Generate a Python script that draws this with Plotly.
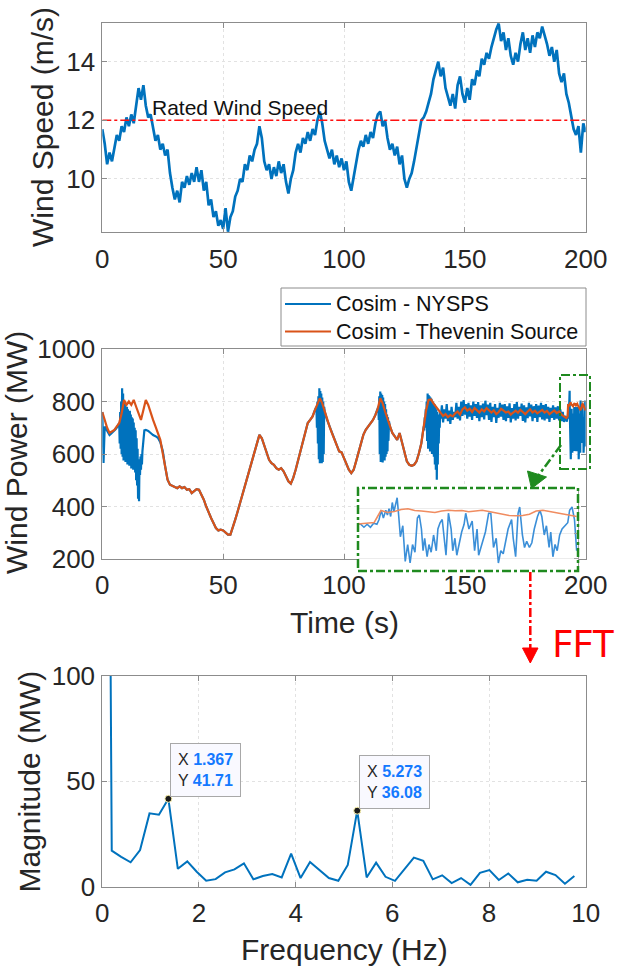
import plotly.graph_objects as go

FONT = "Liberation Sans, Arial, sans-serif"
W, H = 631, 966

# ---------------------------------------------------------------- data
# Wind speed (m/s), one sample per second, t = 0..200 s
time_s = list(range(201))
wind_speed = [
    11.7, 11.2, 10.5, 10.9, 10.6, 11.1, 11.5, 11.3, 11.8, 11.6,
    12.1, 11.8, 12.2, 11.9, 12.6, 13.1, 12.7, 13.2, 12.5, 12.1,
    12.2, 11.8, 11.3, 11.5, 11.0, 11.2, 10.8, 11.0, 10.2, 9.7,
    9.3, 9.6, 9.2, 9.9, 9.7, 10.1, 9.8, 10.2, 9.9, 10.4,
    9.9, 10.3, 9.6, 9.9, 9.1, 9.3, 8.7, 8.9, 8.4, 8.6,
    8.3, 9.0, 8.2, 8.7, 8.9, 9.4, 9.6, 10.0, 9.9, 10.5,
    10.3, 10.8, 10.6, 11.0, 11.2, 11.8, 11.4, 10.6, 10.3, 10.5,
    10.0, 10.4, 10.1, 10.6, 10.2, 10.5, 9.9, 9.5, 10.0, 10.3,
    10.9, 11.2, 10.9, 11.4, 11.2, 11.6, 11.3, 11.7, 11.5, 12.0,
    12.3, 11.9, 11.3, 11.0, 10.7, 11.0, 10.5, 10.8, 10.4, 10.7,
    10.3, 10.6, 9.9, 9.6, 10.1, 10.6, 11.0, 11.3, 11.1, 11.5,
    11.2, 11.6, 11.4, 11.9, 12.2, 12.3, 11.8, 12.0, 11.4, 11.0,
    11.2, 10.8, 11.1, 10.5, 10.8, 10.0, 9.7, 10.0, 10.2, 10.6,
    11.1, 11.5, 12.0, 12.1, 12.3, 12.6, 12.9, 13.4, 13.7, 14.0,
    13.5, 13.8, 13.1, 12.8, 12.5, 12.9, 12.4, 13.2, 13.5, 12.9,
    12.6, 13.1, 12.7, 13.4, 13.2, 13.7, 13.5, 14.1, 13.9, 14.3,
    14.1, 14.5, 14.8, 15.1, 15.3, 14.7, 15.0, 14.4, 14.8, 14.2,
    13.9, 14.3, 14.0, 14.6, 15.0, 14.4, 14.8, 14.3, 14.9, 14.5,
    15.0, 14.8, 15.2, 14.9, 14.6, 14.2, 14.5, 14.0, 14.4, 13.6,
    13.3, 13.6, 12.9, 12.6, 12.2, 11.7, 11.5, 11.8, 10.9, 11.9,
    11.6,
]
rated_speed = 12.0

# Wind power, Thevenin-source co-simulation (MW): 1 s samples for 0..191 s
thevenin_coarse_t = list(range(192))
thevenin_coarse_mw = [
    760, 730, 700, 680, 686, 692, 705, 718, 755, 806,
    787, 800, 787, 806, 780, 755, 730, 768, 806, 787,
    755, 730, 705, 680, 654, 603, 553, 502, 483, 477,
    474, 470, 477, 470, 474, 464, 466, 451, 458, 466,
    464, 445, 426, 400, 375, 356, 337, 318, 309, 312,
    309, 299, 293, 293, 318, 350, 381, 413, 451, 483,
    515, 546, 572, 603, 641, 673, 660, 635, 603, 578,
    565, 559, 546, 540, 546, 534, 515, 496, 487, 509,
    540, 578, 616, 654, 692, 718, 730, 743, 768, 793,
    812, 793, 762, 730, 705, 680, 654, 629, 610, 606,
    584, 559, 540, 527, 540, 572, 603, 641, 673, 692,
    705, 718, 730, 749, 774, 812, 793, 762, 736, 705,
    680, 667, 654, 680, 641, 603, 572, 559, 555, 559,
    572, 603, 641, 705, 768, 806, 808, 793, 780, 768,
    755, 745, 752, 740, 748, 743, 755, 762, 750, 770,
    778, 765, 772, 760, 775, 768, 758, 770, 762, 775,
    768, 758, 766, 752, 760, 772, 765, 758, 762, 750,
    758, 765, 757, 768, 760, 752, 762, 770, 758, 765,
    755, 762, 768, 758, 764, 752, 760, 766, 756, 762,
    750, 742,
]
# ... and 0.25 s samples for the last eight seconds
thevenin_tail_start, thevenin_tail_step = 192.0, 0.25
thevenin_tail_mw = [
    737, 740, 742, 790, 782, 786, 794, 797, 790, 788, 785,
    782, 788, 791, 789, 790, 785, 788, 791, 786, 780, 776,
    770, 769, 770, 775, 788, 791, 786, 781, 776, 770, 766,
]

# Wind power, NYSPS co-simulation (MW): stretches where it departs from the
# Thevenin response, as (start time, sample step, values)
nysps_segments = [
    (0.0, 0.5, [760, 566, 705, 698, 690, 684, 672, 676, 680, 684, 688, 694, 700, 712]),
    (7.0, 0.2, [718, 640, 760, 620, 800, 600, 850, 590, 830, 575, 800, 600, 790, 570,
                775, 580, 780, 560, 770, 575, 760, 555, 765, 570, 750, 545, 740, 560,
                735, 540, 720, 560, 700, 530, 690, 500, 660, 480, 620, 430, 560, 420,
                580, 520, 590, 540, 600, 560, 610, 640, 670, 685, 690]),
    (18.0, 1.0, [692, 688, 680, 672, 668, 662, 645, 612]),
    (88.6, 0.2, [780, 700, 800, 640, 820, 580, 850, 565, 840, 570, 830, 565, 815, 570,
                 800, 600, 780]),
    (114.2, 0.2, [780, 730, 820, 600, 838, 570, 830, 575, 825, 568, 815, 580, 800, 575,
                  790, 590, 770, 600, 750, 610, 740, 650, 725]),
    (133.0, 0.2, [705, 690, 740, 700, 770, 720, 800, 650, 830, 620, 825, 640, 820, 610,
                  815, 630, 810, 600, 800, 620, 795, 590, 790, 560, 780, 540, 770, 502,
                  760, 560, 750, 640, 740, 700, 760, 735]),
    (140.5, 0.5, [785, 720, 770, 735, 790, 725, 765, 715, 780, 730,
                  760, 740, 795, 735, 780, 728, 800, 745, 805, 750,
                  790, 735, 795, 742, 785, 730, 800, 745, 790, 738,
                  798, 725, 785, 740, 792, 732, 803, 748, 788, 730,
                  795, 722, 780, 740, 790, 718, 776, 738, 795, 742,
                  788, 730, 790, 725, 782, 738, 793, 720, 775, 735,
                  790, 728, 798, 735, 780, 745, 792, 726, 785, 720,
                  778, 737, 795, 743, 788, 725, 782, 738, 790, 722,
                  784, 740, 795, 732, 786, 728, 790, 735, 780, 722,
                  776, 738, 785, 730, 778, 735, 782, 728, 770, 725,
                  760, 722, 745]),
]
# Final oscillation (time s, MW)
nysps_tail = [
    (192.0, 735), (192.12, 723), (192.24, 735), (192.36, 723), (192.48, 739),
    (192.6, 735), (192.68, 754), (192.76, 791), (192.84, 760), (192.93, 791),
    (192.99, 772), (193.05, 797), (193.11, 766), (193.17, 822), (193.23, 785),
    (193.29, 816), (193.35, 841), (193.41, 766), (193.47, 685), (193.56, 729),
    (193.65, 586), (193.74, 654), (193.83, 580), (193.92, 654), (194.01, 623),
    (194.1, 760), (194.17, 772), (194.25, 716), (194.31, 629), (194.37, 679),
    (194.46, 605), (194.53, 654), (194.61, 623), (194.7, 692), (194.8, 629),
    (194.86, 716), (194.94, 741), (195.02, 754), (195.1, 679), (195.16, 611),
    (195.25, 779), (195.35, 716), (195.41, 629), (195.49, 679), (195.56, 611),
    (195.65, 661), (195.74, 704), (195.83, 735), (195.89, 779), (196.01, 716),
    (196.13, 748), (196.22, 629), (196.31, 716), (196.37, 611), (196.49, 661),
    (196.62, 704), (196.74, 779), (196.82, 779), (196.92, 642), (197.02, 679),
    (197.1, 580), (197.19, 629), (197.28, 617), (197.38, 679), (197.46, 716),
    (197.59, 754), (197.65, 679), (197.74, 605), (197.83, 779), (197.89, 804),
    (197.99, 692), (198.07, 642), (198.15, 667), (198.25, 642), (198.34, 661),
    (198.43, 716), (198.55, 766), (198.64, 791), (198.71, 766), (198.8, 692),
    (198.88, 729), (198.98, 642), (199.04, 704), (199.12, 605), (199.2, 654),
    (199.28, 629), (199.37, 692), (199.46, 716), (199.58, 729), (199.67, 741),
    (199.74, 791), (199.83, 804), (199.92, 754), (200.0, 629),
]

# FFT of the NYSPS power over the final window: 0.1953 Hz bins (fs/N = 50/256)
freq_hz = [k * 50 / 256 for k in range(51)]
fft_mag_mw = [
    745, 17.1, 14.2, 11.6, 17.4, 34.8, 34.2, 41.71, 8.5, 12.0,
    7.1, 2.8, 3.6, 6.8, 8.2, 11.1, 3.5, 5.1, 6.0, 4.4,
    15.7, 4.1, 11.7, 7.9, 4.1, 2.8, 10.3, 36.08, 4.4, 11.4,
    4.7, 2.8, 8.2, 13.8, 12.3, 3.5, 5.4, 1.7, 4.1, 0.9,
    6.6, 7.9, 3.2, 6.3, 2.1, 3.3, 2.8, 7.1, 5.5, 1.4,
    5.1,
]
tip_bins = [7, 27]

series_names = ["Cosim - NYSPS", "Cosim - Thevenin Source"]

# ------------------------------------------------------ series assembly
thevenin_t = thevenin_coarse_t + [thevenin_tail_start + i * thevenin_tail_step
                                  for i in range(len(thevenin_tail_mw))]
thevenin_mw = thevenin_coarse_mw + thevenin_tail_mw

seg_pts = []
windows = []
for start, step, vals in nysps_segments:
    ts = [round(start + i * step, 3) for i in range(len(vals))]
    seg_pts += list(zip(ts, vals))
    windows.append((ts[0], ts[-1]))
windows.append((nysps_tail[0][0], nysps_tail[-1][0]))
base_pts = [(t, v) for t, v in zip(thevenin_coarse_t, thevenin_coarse_mw)
            if not any(a <= t <= b for a, b in windows)]
nysps_pts = sorted(base_pts + seg_pts + nysps_tail)
nysps_t = [p[0] for p in nysps_pts]
nysps_mw = [p[1] for p in nysps_pts]

# ------------------------------------------------------------- helpers
def px(x):
    return x / W


def py(y):
    return 1 - y / H


BLUE = "#0072BD"
ORANGE = "#D95319"
GREEN = "#1f8a1f"
AXIS_GRAY = "#8c8c8c"
TXT = "#262626"

X_DOM = [px(102.3), px(585.7)]
TOP_DOM = [py(232.3), py(22.7)]
MID_DOM = [py(559.0), py(349.0)]
BOT_DOM = [py(886.7), py(676.0)]
INSET_X_DOM = [px(358), px(578)]
INSET_Y_DOM = [py(571), py(488)]
INSET_T = [191.9, 200.05]
INSET_P = [548, 880]


def axis_style(**kw):
    d = dict(
        showline=True, linecolor=AXIS_GRAY, linewidth=1, mirror="ticks",
        ticks="inside", ticklen=5, tickcolor=AXIS_GRAY, tickwidth=1,
        showgrid=True, gridcolor="#e2e2e2", griddash="dot", gridwidth=1,
        zeroline=False, automargin=False,
        tickfont=dict(family=FONT, size=26, color=TXT),
    )
    d.update(kw)
    return d


fig = go.Figure()

# Top: wind speed
fig.add_trace(go.Scatter(x=time_s, y=wind_speed, mode="lines",
                         line=dict(color=BLUE, width=2.7),
                         showlegend=False, xaxis="x", yaxis="y"))
fig.add_trace(go.Scatter(x=[time_s[0], time_s[-1]], y=[rated_speed, rated_speed],
                         mode="lines", line=dict(color="#ff1010", width=1.6, dash="dashdot"),
                         showlegend=False, xaxis="x", yaxis="y"))

# Middle: wind power
fig.add_trace(go.Scatter(x=nysps_t, y=nysps_mw, mode="lines", name=series_names[0],
                         line=dict(color=BLUE, width=2.2), showlegend=False,
                         xaxis="x2", yaxis="y2"))
fig.add_trace(go.Scatter(x=thevenin_t, y=thevenin_mw, mode="lines",
                         name=series_names[1], showlegend=False,
                         line=dict(color=ORANGE, width=2.2), xaxis="x2", yaxis="y2"))

# Inset: detail of the final seconds
fig.add_trace(go.Scatter(x=nysps_t, y=nysps_mw, mode="lines",
                         line=dict(color="#3b8fd8", width=1.6),
                         showlegend=False, xaxis="x4", yaxis="y4"))
fig.add_trace(go.Scatter(x=thevenin_t, y=thevenin_mw, mode="lines",
                         line=dict(color="#f08c60", width=1.6),
                         showlegend=False, xaxis="x4", yaxis="y4"))

# Bottom: FFT magnitude
fig.add_trace(go.Scatter(x=freq_hz, y=fft_mag_mw, mode="lines",
                         line=dict(color=BLUE, width=2),
                         showlegend=False, xaxis="x3", yaxis="y3"))
fig.add_trace(go.Scatter(x=[freq_hz[k] for k in tip_bins],
                         y=[fft_mag_mw[k] for k in tip_bins], mode="markers",
                         marker=dict(color="#1a1a1a", size=7,
                                     line=dict(color="#fff6b0", width=1)),
                         showlegend=False, xaxis="x3", yaxis="y3"))

fig.update_layout(
    width=W, height=H, margin=dict(l=0, r=0, t=0, b=0, pad=0, autoexpand=False),
    paper_bgcolor="white", plot_bgcolor="white",
    font=dict(family=FONT, color=TXT), showlegend=False,
    xaxis=axis_style(domain=X_DOM, anchor="y", range=[0, 200],
                     tickvals=[0, 50, 100, 150, 200], ticklabelstandoff=3),
    yaxis=axis_style(domain=TOP_DOM, anchor="x", range=[8.18, 15.33],
                     tickvals=[10, 12, 14], ticklabelstandoff=1),
    xaxis2=axis_style(domain=X_DOM, anchor="y2", range=[0, 200],
                      tickvals=[0, 50, 100, 150, 200], ticklabelstandoff=3),
    yaxis2=axis_style(domain=MID_DOM, anchor="x2", range=[200, 1000],
                      tickvals=[200, 400, 600, 800, 1000], ticklabelstandoff=1),
    xaxis3=axis_style(domain=X_DOM, anchor="y3", range=[0, 10],
                      tickvals=[0, 2, 4, 6, 8, 10], ticklabelstandoff=3),
    yaxis3=axis_style(domain=BOT_DOM, anchor="x3", range=[0, 100],
                      tickvals=[0, 50, 100], ticklabelstandoff=1),
    xaxis4=dict(domain=INSET_X_DOM, anchor="y4", range=INSET_T, showline=False,
                showticklabels=False, ticks="", showgrid=False, zeroline=False,
                automargin=False),
    yaxis4=dict(domain=INSET_Y_DOM, anchor="x4", range=INSET_P, side="right",
                showline=True, linecolor="#a0a0a0", ticks="inside", ticklen=4,
                tickcolor="#a0a0a0", showticklabels=False, tickvals=[600, 700, 800],
                showgrid=True, gridcolor="#ececec", zeroline=False, automargin=False),
)

# ------------------------------------------------------------ titles
def title(text, x, y, angle=0, size=30):
    fig.add_annotation(text=text, xref="paper", yref="paper", x=px(x), y=py(y),
                       xanchor="center", yanchor="middle", textangle=angle,
                       showarrow=False, font=dict(family=FONT, size=size, color=TXT))


title("Wind Speed (m/s)", 42.5, 127.5, -90)
title("Wind Power (MW)", 16, 453, -90)
title("Magnitude (MW)", 28.5, 782, -90)
title("Time (s)", 344, 622)
title("Frequency (Hz)", 344, 949)

fig.add_annotation(text="Rated Wind Speed", xref="paper", yref="paper",
                   x=px(150), y=py(107.5), xanchor="left", yanchor="middle",
                   showarrow=False, font=dict(family=FONT, size=21, color="#111111"))

fig.add_annotation(text="FFT", xref="paper", yref="paper", x=px(550), y=py(641),
                   xanchor="left", yanchor="middle", showarrow=False,
                   font=dict(family="Noto Sans, sans-serif", size=39, color="#ff0000"))

# Data tips on the FFT peaks
for k in tip_bins:
    val = '<span style="color:#1479ff"><b>{}</b></span>'
    txt = ("X " + val.format(f"{freq_hz[k]:.3f}") + "<br>Y "
           + val.format(f"{fft_mag_mw[k]:.2f}"))
    fig.add_annotation(text=txt, x=freq_hz[k], y=fft_mag_mw[k], xref="x3", yref="y3",
                       xanchor="left", yanchor="bottom", xshift=2, yshift=2,
                       showarrow=False, align="left", bgcolor="#f9f9ff",
                       bordercolor="#a8a8a8", borderwidth=1, borderpad=7,
                       font=dict(family=FONT, size=16, color=TXT))

# ------------------------------------------------------------ legend box
LEG_X0, LEG_X1, LEG_Y0, LEG_Y1 = 281, 586, 288, 346
leg_rows = [304, 331.5]
shapes = [dict(type="rect", xref="paper", yref="paper", x0=px(LEG_X0), x1=px(LEG_X1),
               y0=py(LEG_Y1), y1=py(LEG_Y0), fillcolor="white",
               line=dict(color="#8c8c8c", width=1), layer="above")]
for name, color, ry in zip(series_names, [BLUE, ORANGE], leg_rows):
    shapes.append(dict(type="line", xref="paper", yref="paper", x0=px(285), x1=px(331),
                       y0=py(ry), y1=py(ry), line=dict(color=color, width=2.2),
                       layer="above"))
    fig.add_annotation(text=name, xref="paper", yref="paper", x=px(334), y=py(ry),
                       xanchor="left", yanchor="middle", showarrow=False,
                       font=dict(family=FONT, size=21.5, color="#111111"))

# ------------------------------------------------------------ shapes
shapes += [
    # opaque backing of the inset
    dict(type="rect", xref="x4", yref="y4", x0=INSET_T[0], x1=INSET_T[1],
         y0=INSET_P[0], y1=INSET_P[1], fillcolor="white", line=dict(width=0),
         layer="below"),
    # inset frame
    dict(type="rect", xref="paper", yref="paper", x0=px(358), x1=px(578),
         y0=py(571), y1=py(488), line=dict(color=GREEN, width=2.5, dash="dashdot"),
         layer="above"),
    # zoom window on the main plot
    dict(type="rect", xref="paper", yref="paper", x0=px(560), x1=px(590),
         y0=py(469), y1=py(375), line=dict(color=GREEN, width=2, dash="dashdot"),
         layer="above"),
    # green pointer
    dict(type="line", xref="paper", yref="paper", x0=px(561), y0=py(445),
         x1=px(538), y1=py(476), line=dict(color=GREEN, width=2.5, dash="dashdot"),
         layer="above"),
    dict(type="path", xref="paper", yref="paper",
         path=(f"M {px(531.5)} {py(488.5)} L {px(527.5)} {py(471)} "
               f"L {px(546.5)} {py(477)} Z"),
         fillcolor=GREEN, line=dict(color=GREEN, width=1), layer="above"),
    # red pointer to the FFT
    dict(type="line", xref="paper", yref="paper", x0=px(530.3), y0=py(572),
         x1=px(530.3), y1=py(648), line=dict(color="#ff0000", width=2.5, dash="dashdot"),
         layer="above"),
    dict(type="path", xref="paper", yref="paper",
         path=(f"M {px(522.5)} {py(648)} L {px(538)} {py(648)} "
               f"L {px(530.3)} {py(663)} Z"),
         fillcolor="#ff0000", line=dict(color="#ff0000", width=1), layer="above"),
]
fig.update_layout(shapes=shapes)

fig.write_html("out.html")
